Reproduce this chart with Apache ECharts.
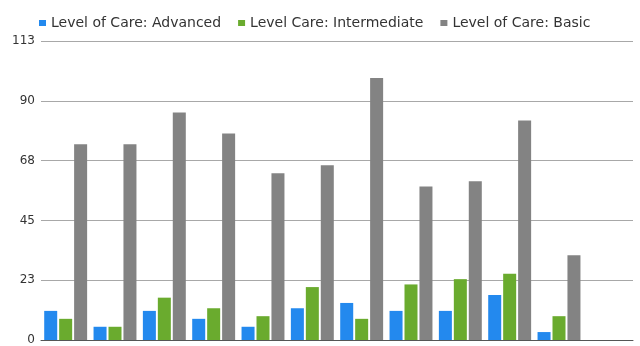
<!DOCTYPE html>
<html>
<head>
<meta charset="utf-8">
<script src="https://cdn.jsdelivr.net/npm/echarts@6/dist/echarts.min.js"></script>
<style>html,body{margin:0;padding:0;background:#fff}#c{width:640px;height:346px}</style>
</head>
<body>
<div id="c"></div>
<script>
const categories = ["1","2","3","4","5","6","7","8","9","10","11",""];
const seriesNames = ["Level of Care: Advanced","Level Care: Intermediate","Level of Care: Basic"];
const advanced = [11,5,11,8,5,12,14,11,11,17,3];
const intermediate = [8,5,16,12,9,20,8,21,23,25,9];
const basic = [74,74,86,78,63,66,99,58,60,83,32];
const yMax = 113;
const yStep = 22.6;
const colors = ["#2389ee","#6aab2e","#838383"];

const chart = echarts.init(document.getElementById('c'), null, {renderer:'canvas'});
const font = 'DejaVu Sans';
chart.setOption({
  animation:false,
  color: colors,
  legend:{
    left:34, top:11,
    itemWidth:7, itemHeight:6, itemGap:17,
    icon:'rect',
    textStyle:{fontFamily:font, fontSize:14, color:'#333'},
    data: seriesNames
  },
  grid:{left:41, right:7, top:41, bottom:5, containLabel:false},
  xAxis:{
    type:'category', data:categories,
    axisLine:{lineStyle:{color:'#555', width:1}},
    axisTick:{show:false},
    axisLabel:{show:false},
    splitLine:{show:false}
  },
  yAxis:{
    type:'value', min:0, max:yMax, interval:yStep,
    axisLine:{show:false}, axisTick:{show:false},
    axisLabel:{fontFamily:font, fontSize:12, color:'#333', margin:6,
      formatter:v=>String(Math.round(v))},
    splitLine:{lineStyle:{color:'#a8a8a8', width:1}}
  },
  series:[
    {name:seriesNames[0], type:'bar', data:advanced, barGap:'15%', barCategoryGap:'13%'},
    {name:seriesNames[1], type:'bar', data:intermediate, barGap:'15%', barCategoryGap:'13%'},
    {name:seriesNames[2], type:'bar', data:basic, barGap:'15%', barCategoryGap:'13%'}
  ]
});
</script>
</body>
</html>
